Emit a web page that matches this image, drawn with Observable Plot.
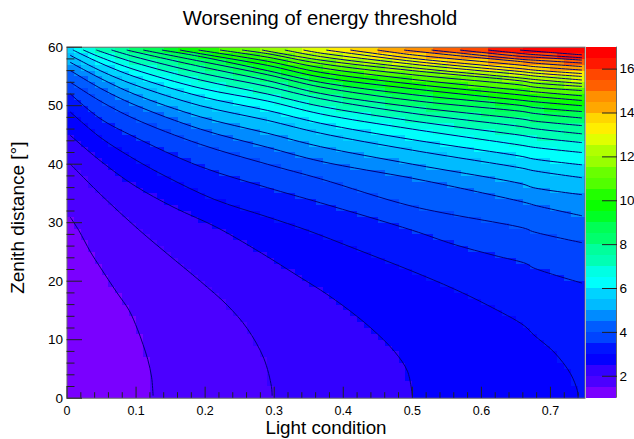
<!DOCTYPE html>
<html><head><meta charset="utf-8">
<script src="https://cdn.jsdelivr.net/npm/d3@7"></script>
<script src="https://cdn.jsdelivr.net/npm/@observablehq/plot@0.6"></script>
<style>
html,body{margin:0;padding:0;background:#fff}
#chart{position:relative;width:634px;height:439px;overflow:hidden}
#chart svg{position:absolute;left:0;top:0;background:transparent;font-family:"Liberation Sans",Arial,sans-serif}
</style></head><body><div id="chart"></div>
<script>
const titleText = "Worsening of energy threshold";
const xLabelText = "Light condition";
const yLabelText = "Zenith distance [°]";
const xMajor = [0,0.1,0.2,0.3,0.4,0.5,0.6,0.7];
const xMinor = [0.02,0.04,0.06,0.08,0.12,0.14,0.16,0.18,0.22,0.24,0.26,0.28,0.32,0.34,0.36,0.38,0.42,0.44,0.46,0.48,0.52,0.54,0.56,0.58,0.62,0.64,0.66,0.68,0.72,0.74];
const yMajor = [0,10,20,30,40,50,60];
const yMinor = [2,4,6,8,12,14,16,18,22,24,26,28,32,34,36,38,42,44,46,48,52,54,56,58];
const zTicks = [2,4,6,8,10,12,14,16];
const bandEdges = [1,1.5,2,2.5,3,3.5,4,4.5,5,5.5,6,6.5,7,7.5,8,8.5,9,9.5,10,10.5,11,11.5,12,12.5,13,13.5,14,14.5,15,15.5,16,16.5,17];
const bandColors = ["#7a00ff","#4b00ff","#3300ff","#0300ff","#0014ff","#0044ff","#005cff","#008bff","#00bbff","#00d3ff","#00fffc","#00ffe4","#00ffb4","#00ff9c","#00ff6d","#00ff55","#00ff25","#0aff00","#22ff00","#52ff00","#69ff00","#99ff00","#b1ff00","#e0ff00","#ffee00","#ffd600","#ffa700","#ff8f00","#ff5f00","#ff4700","#ff1800","#ff0000"];

const level_1_5 = [[.005,30.9],[.017,28.7],[.034,25],[.048,22.4],[.072,18.1],[.09,15],[.102,11.8],[.11,9.2],[.117,6.6],[.1225,3.6],[.1246,.5]];
const level_2_0 = [[.005,40],[.048,34.9],[.104,28.8],[.145,24.7],[.193,20],[.232,15.9],[.261,11.9],[.285,6.8],[.296,2],[.297,.5]];
const level_2_5 = [[.005,44.9],[.048,40.6],[.097,36.4],[.155,32.6],[.217,29.2],[.29,24.2],[.333,21],[.367,18.5],[.401,15.7],[.44,12],[.474,8],[.493,4.6],[.5,.5]];
const level_3_0 = [[.005,48.9],[.048,44.6],[.097,40.9],[.145,37.8],[.213,34],[.29,31],[.348,28.7],[.416,25.6],[.498,21.8],[.56,18.7],[.609,15.9],[.662,12.4],[.676,10.8],[.705,7.9],[.729,4.2],[.739,1.3],[.74,.5]];
const level_3_5 = [[.005,52],[.048,47.8],[.097,44.7],[.193,39.6],[.29,36],[.367,33.4],[.5,28.7],[.56,26.3],[.619,24.4],[.665,23],[.675,22.3],[.745,19.7]];
const level_4_0 = [[.005,54],[.048,50.8],[.097,47.8],[.193,43.4],[.29,40],[.367,37.5],[.5,32.8],[.664,29],[.674,28.5],[.745,26.6]];
const level_4_5 = [[.005,56],[.048,53],[.097,50.2],[.193,46],[.29,42.9],[.367,40.5],[.5,37.6],[.57,35.9],[.665,33.4],[.68,32.9],[.745,31.2]];
const level_5_0 = [[.005,57.4],[.048,54.7],[.097,52],[.193,48.1],[.29,45.3],[.367,43],[.5,40],[.66,36.6],[.675,36],[.745,34.8]];
const level_5_5 = [[.005,58.6],[.048,56],[.097,53.6],[.193,50],[.29,47.5],[.367,45.3],[.5,42.4],[.66,39.3],[.675,38.9],[.745,37.7]];
const level_6_0 = [[.009,59.5],[.048,57.3],[.097,55],[.193,51.6],[.29,49.2],[.367,47],[.5,44.2],[.66,41.3],[.675,40.9],[.745,39.9]];
const level_6_5 = [[.024,59.5],[.048,58.3],[.097,56.2],[.193,53],[.29,50.8],[.367,48.6],[.5,46],[.66,43.2],[.675,42.9],[.745,42]];
const level_7_0 = [[.043,59.5],[.097,57.4],[.193,54.4],[.29,52],[.367,49.9],[.5,47.4],[.66,44.9],[.675,44.6],[.745,43.7]];
const level_7_5 = [[.065,59.5],[.097,58.4],[.193,55.6],[.29,53.3],[.367,51.2],[.5,48.7],[.66,46.4],[.675,46.1],[.745,45.2]];
const level_8_0 = [[.087,59.5],[.193,56.7],[.29,54.3],[.367,52.1],[.5,49.8],[.66,47.7],[.675,47.4],[.745,46.6]];
const level_8_5 = [[.111,59.5],[.193,57.6],[.29,55.3],[.367,53.2],[.5,50.9],[.66,49],[.675,48.7],[.745,47.9]];
const level_9_0 = [[.138,59.5],[.193,58.4],[.29,56],[.367,54],[.5,51.9],[.66,50],[.675,49.7],[.745,49]];
const level_9_5 = [[.164,59.5],[.193,58.9],[.29,56.9],[.367,54.9],[.5,52.9],[.66,50.9],[.675,50.7],[.745,50]];
const level_10_0 = [[.191,59.5],[.29,57.6],[.367,55.7],[.5,53.7],[.66,51.8],[.675,51.6],[.745,50.9]];
const level_10_5 = [[.222,59.5],[.29,58.3],[.367,56.5],[.5,54.5],[.66,52.6],[.675,52.4],[.745,51.7]];
const level_11_0 = [[.254,59.5],[.29,58.9],[.367,57.2],[.5,55.3],[.66,53.5],[.675,53.2],[.745,52.6]];
const level_11_5 = [[.283,59.5],[.367,57.8],[.5,56],[.66,54.2],[.675,53.9],[.745,53.3]];
const level_12_0 = [[.316,59.5],[.367,58.4],[.5,56.5],[.66,54.7],[.675,54.5],[.745,53.8]];
const level_12_5 = [[.343,59.5],[.367,59],[.5,57.1],[.66,55.3],[.675,55.1],[.745,54.4]];
const level_13_0 = [[.376,59.5],[.5,57.6],[.66,55.8],[.675,55.6],[.745,55]];
const level_13_5 = [[.411,59.5],[.5,58.1],[.66,56.3],[.675,56.1],[.745,55.5]];
const level_14_0 = [[.45,59.5],[.5,58.7],[.66,56.9],[.675,56.7],[.745,56.1]];
const level_14_5 = [[.4885,59.5],[.57,58.5],[.66,57.5],[.675,57.3],[.745,56.7]];
const level_15_0 = [[.5285,59.5],[.66,57.9],[.675,57.8],[.745,57.3]];
const level_15_5 = [[.5695,59.5],[.66,58.4],[.675,58.3],[.745,57.8]];
const level_16_0 = [[.6106,59.5],[.66,58.9],[.675,58.75],[.745,58.2]];
const level_16_5 = [[.6564,59.5],[.7,59.1],[.745,58.7]];

const contourLevels = [
 [1.5,level_1_5],[2,level_2_0],[2.5,level_2_5],[3,level_3_0],[3.5,level_3_5],[4,level_4_0],[4.5,level_4_5],[5,level_5_0],[5.5,level_5_5],[6,level_6_0],[6.5,level_6_5],[7,level_7_0],[7.5,level_7_5],[8,level_8_0],[8.5,level_8_5],[9,level_9_0],[9.5,level_9_5],[10,level_10_0],[10.5,level_10_5],[11,level_11_0],[11.5,level_11_5],[12,level_12_0],[12.5,level_12_5],[13,level_13_0],[13.5,level_13_5],[14,level_14_0],[14.5,level_14_5],[15,level_15_0],[15.5,level_15_5],[16,level_16_0],[16.5,level_16_5]
];
const linePoints = contourLevels.flatMap(([z,pts]) => pts.map(([x,y]) => ({x,y,z})));
const bands = bandColors.map((c,i) => ({lo:bandEdges[i],hi:bandEdges[i+1],c}));

function boundaryAt(pts, x){
  const n = pts.length;
  if (x <= pts[0][0]) return pts[0][1] >= 59 ? Infinity : pts[0][1];
  if (x >= pts[n-1][0]) return pts[n-1][1] <= 1 ? -Infinity : pts[n-1][1];
  let i = 1; while (pts[i][0] < x) i++;
  const [x0,y0] = pts[i-1], [x1,y1] = pts[i];
  return y0 + (y1-y0)*(x-x0)/(x1-x0);
}
function binValue(x,y){
  let k = 0;
  for (const [,pts] of contourLevels) if (y >= boundaryAt(pts,x)) k++;
  return bandEdges[k] + 0.25;
}

const W=634,H=439,mT=46.7,mB=41.3,mL=66.5;
const ink="#000", axisInk="#222";

const main = Plot.plot({
  width:W,height:H,marginTop:mT,marginBottom:mB,marginLeft:mL,marginRight:W-584.5,
  x:{domain:[0,.75],label:null},
  y:{domain:[0,60],label:null},
  color:{type:"threshold",domain:bandEdges.slice(1,-1),range:bandColors},
  marks:[
    Plot.raster({fill:binValue,x1:0,x2:.75,y1:0,y2:60,width:75,height:60,imageRendering:"pixelated"}),
    Plot.line(linePoints,{x:"x",y:"y",z:"z",stroke:"#000078",strokeWidth:1,curve:"catmull-rom"}),
    Plot.frame({stroke:"#666",strokeWidth:1}),
    Plot.axisX({ticks:xMajor,tickSize:-11,tickPadding:18.5,tickFormat:d=>d===0?"0":String(d),fontSize:12.5,label:null,stroke:axisInk,fill:ink}),
    Plot.axisX({ticks:xMinor,tickSize:-5.5,text:null,label:null,stroke:axisInk}),
    Plot.axisY({ticks:yMajor,tickSize:-15.5,tickPadding:19.5,fontSize:13.5,label:null,stroke:axisInk,fill:ink}),
    Plot.axisY({ticks:yMinor,tickSize:-8,text:null,label:null,stroke:axisInk}),
    Plot.text([titleText],{frameAnchor:"top",dy:-29,dx:-6,fontSize:20.2,fill:ink,lineAnchor:"middle"}),
    Plot.text([xLabelText],{frameAnchor:"bottom",dy:30,fontSize:18.8,fill:ink,lineAnchor:"middle"}),
    Plot.text([yLabelText],{frameAnchor:"left",dx:-49.5,dy:-5,rotate:-90,fontSize:19,fill:ink,textAnchor:"middle",lineAnchor:"middle"})
  ]
});
const bar = Plot.plot({
  width:W,height:H,marginTop:mT,marginBottom:mB,marginLeft:586,marginRight:W-616,
  x:{domain:[0,1],axis:null},
  y:{domain:[1,17],label:null},
  marks:[
    Plot.rect(bands,{x1:0,x2:1,y1:"lo",y2:"hi",fill:"c",shapeRendering:"crispEdges"}),
    Plot.ruleX([1],{stroke:"#666",strokeWidth:1}),
    Plot.axisY({anchor:"right",ticks:zTicks,tickSize:-15,tickPadding:18,fontSize:13.5,label:null,stroke:"#222",fill:ink})
  ]
});
const root=document.getElementById("chart");
root.appendChild(main);root.appendChild(bar);
</script></body></html>
